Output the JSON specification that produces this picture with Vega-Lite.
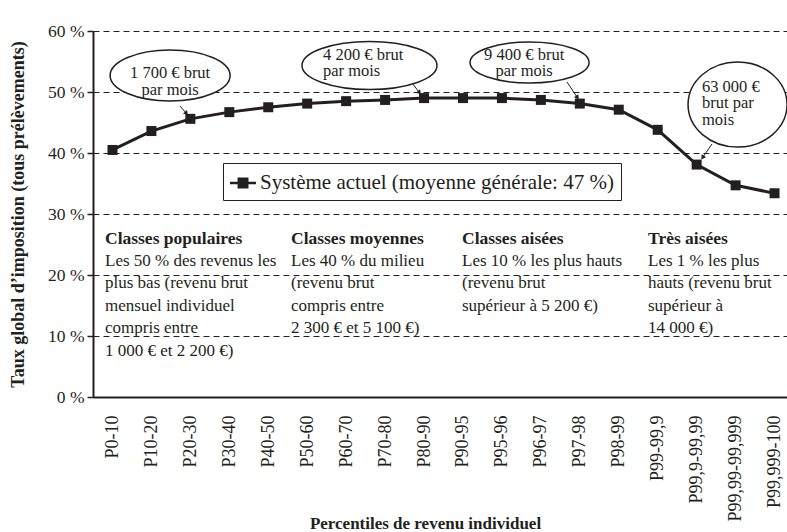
{
  "$schema": "https://vega.github.io/schema/vega-lite/v6.json",
  "width": 694,
  "height": 366,
  "autosize": {"type": "none"},
  "padding": {"left": 93, "top": 31, "right": 0, "bottom": 135},
  "background": "white",
  "config": {
    "view": {"stroke": null},
    "font": "Liberation Serif",
    "text": {"font": "Liberation Serif", "color": "#231f20"}
  },
  "datasets": {
    "series": [
      {"x": 0, "percentile": "P0-10", "y": 40.5, "serie": "Système actuel (moyenne générale: 47 %)"},
      {"x": 1, "percentile": "P10-20", "y": 43.6, "serie": "Système actuel (moyenne générale: 47 %)"},
      {"x": 2, "percentile": "P20-30", "y": 45.6, "serie": "Système actuel (moyenne générale: 47 %)"},
      {"x": 3, "percentile": "P30-40", "y": 46.7, "serie": "Système actuel (moyenne générale: 47 %)"},
      {"x": 4, "percentile": "P40-50", "y": 47.5, "serie": "Système actuel (moyenne générale: 47 %)"},
      {"x": 5, "percentile": "P50-60", "y": 48.1, "serie": "Système actuel (moyenne générale: 47 %)"},
      {"x": 6, "percentile": "P60-70", "y": 48.5, "serie": "Système actuel (moyenne générale: 47 %)"},
      {"x": 7, "percentile": "P70-80", "y": 48.7, "serie": "Système actuel (moyenne générale: 47 %)"},
      {"x": 8, "percentile": "P80-90", "y": 49.0, "serie": "Système actuel (moyenne générale: 47 %)"},
      {"x": 9, "percentile": "P90-95", "y": 49.0, "serie": "Système actuel (moyenne générale: 47 %)"},
      {"x": 10, "percentile": "P95-96", "y": 49.0, "serie": "Système actuel (moyenne générale: 47 %)"},
      {"x": 11, "percentile": "P96-97", "y": 48.7, "serie": "Système actuel (moyenne générale: 47 %)"},
      {"x": 12, "percentile": "P97-98", "y": 48.1, "serie": "Système actuel (moyenne générale: 47 %)"},
      {"x": 13, "percentile": "P98-99", "y": 47.1, "serie": "Système actuel (moyenne générale: 47 %)"},
      {"x": 14, "percentile": "P99-99,9", "y": 43.8, "serie": "Système actuel (moyenne générale: 47 %)"},
      {"x": 15, "percentile": "P99,9-99,99", "y": 38.1, "serie": "Système actuel (moyenne générale: 47 %)"},
      {"x": 16, "percentile": "P99,99-99,999", "y": 34.7, "serie": "Système actuel (moyenne générale: 47 %)"},
      {"x": 17, "percentile": "P99,999-100", "y": 33.4, "serie": "Système actuel (moyenne générale: 47 %)"}
    ],
    "separators": [{"x": 4.533}, {"x": 8.744}, {"x": 13.597}],
    "ellipses": [
      {"id": "e1", "x": 1.48, "y": 52.7},
      {"id": "e2", "x": 6.6, "y": 54.34},
      {"id": "e3", "x": 10.71, "y": 54.84},
      {"id": "e4", "x": 16.05, "y": 47.95}
    ],
    "notes_c": [
      {"x": 1.48, "y": 53.11, "txt": "1 700 € brut\npar mois"},
      {"x": 10.57, "y": 56.07, "txt": "9 400 € brut\npar mois"}
    ],
    "notes_l": [
      {"x": 5.406, "y": 56.07, "txt": "4 200 € brut\npar mois"},
      {"x": 15.137, "y": 50.82, "txt": "63 000 €\nbrut par\nmois"}
    ],
    "arrows": [
      {"x": 1.734, "y": 47.7, "x2": 1.888, "y2": 46.56, "heading": 139},
      {"x": 7.691, "y": 51.48, "x2": 7.871, "y2": 50.0, "heading": 142},
      {"x": 11.671, "y": 51.64, "x2": 11.928, "y2": 49.18, "heading": 146},
      {"x": 15.394, "y": 41.48, "x2": 15.163, "y2": 39.34, "heading": 215}
    ],
    "blocks": [
      {"x": -0.192, "y": 25.08, "yb": 21.52, "title": "Classes populaires", "body": "Les 50 % des revenus les\nplus bas (revenu brut\nmensuel individuel\ncompris entre\n1 000 € et 2 200 €)"},
      {"x": 4.584, "y": 25.08, "yb": 21.52, "title": "Classes moyennes", "body": "Les 40 % du milieu\n(revenu brut\ncompris entre\n2 300 € et 5 100 €)"},
      {"x": 8.975, "y": 25.08, "yb": 21.52, "title": "Classes aisées", "body": "Les 10 % les plus hauts\n(revenu brut\nsupérieur à 5 200 €)"},
      {"x": 13.751, "y": 25.08, "yb": 21.52, "title": "Très aisées", "body": "Les 1 % les plus\nhauts (revenu brut\nsupérieur à\n14 000 €)"}
    ]
  },
  "encoding": {
    "x": {
      "field": "x", "type": "quantitative",
      "scale": {"domain": [-0.5, 17.32], "nice": false, "zero": false},
      "axis": {
        "title": "Percentiles de revenu individuel",
        "values": [0, 1, 2, 3, 4, 5, 6, 7, 8, 9, 10, 11, 12, 13, 14, 15, 16, 17],
        "labelExpr": "['P0-10','P10-20','P20-30','P30-40','P40-50','P50-60','P60-70','P70-80','P80-90','P90-95','P95-96','P96-97','P97-98','P98-99','P99-99,9','P99,9-99,99','P99,99-99,999','P99,999-100'][datum.value]",
        "labelAngle": -90,
        "labelFont": "Liberation Serif",
        "labelFontSize": 18,
        "labelColor": "#231f20",
        "labelPadding": 18,
        "labelOverlap": false,
        "labelFlush": false,
        "ticks": false,
        "grid": false,
        "domainColor": "#231f20",
        "domainWidth": 2,
        "titleFont": "Liberation Serif",
        "titleFontSize": 17,
        "titleFontWeight": "bold",
        "titleColor": "#231f20",
        "titleX": 332,
        "titleY": 126,
        "titleBaseline": "middle"
      }
    },
    "y": {
      "field": "y", "type": "quantitative",
      "scale": {"domain": [0, 60], "nice": false},
      "axis": {
        "title": "Taux global d’imposition (tous prélèvements)",
        "values": [0, 10, 20, 30, 40, 50, 60],
        "labelExpr": "datum.value + ' %'",
        "labelFont": "Liberation Serif",
        "labelFontSize": 17.5,
        "labelColor": "#231f20",
        "labelPadding": 3,
        "tickSize": 6,
        "tickColor": "#231f20",
        "tickWidth": 1.5,
        "grid": true,
        "gridDash": [6, 4],
        "gridColor": "#231f20",
        "gridWidth": 1,
        "gridOpacity": 1,
        "domainColor": "#231f20",
        "domainWidth": 2,
        "titleFont": "Liberation Serif",
        "titleFontSize": 18,
        "titleFontWeight": "bold",
        "titleColor": "#231f20",
        "titleX": -75,
        "titleY": 183,
        "titleBaseline": "middle"
      }
    }
  },
  "layer": [
    {
      "data": {"name": "separators"},
      "mark": {"type": "rule", "color": "#231f20", "strokeWidth": 1, "strokeDash": [5, 4]},
      "encoding": {"y": {"datum": 0}, "y2": {"datum": 60}}
    },
    {
      "data": {"values": [{}]},
      "mark": {"type": "rule", "color": "#231f20", "strokeWidth": 2},
      "encoding": {"x": {"datum": -0.5}, "x2": {"datum": 17.32}, "y": {"datum": 60}}
    },
    {
      "data": {"name": "series"},
      "mark": {"type": "line", "color": "#231f20", "strokeWidth": 3},
      "encoding": {}
    },
    {
      "data": {"name": "series"},
      "mark": {"type": "point", "shape": "square", "filled": true, "size": 100, "opacity": 1},
      "encoding": {
        "color": {
          "field": "serie", "type": "nominal",
          "scale": {"range": ["#231f20"]},
          "legend": {
            "title": null,
            "orient": "none",
            "legendX": 130,
            "legendY": 132,
            "symbolType": "M-1,-0.1H-0.42V-0.42H0.42V-0.1H1V0.1H0.42V0.42H-0.42V0.1H-1Z",
            "symbolSize": 676,
            "symbolStrokeWidth": 0,
            "symbolOpacity": 1,
            "labelFont": "Liberation Serif",
            "labelFontSize": 21,
            "labelColor": "#231f20",
            "labelLimit": 800,
            "labelOffset": 4,
            "strokeColor": "#231f20",
            "fillColor": "white",
            "padding": 7
          }
        }
      }
    },
    {
      "data": {"name": "arrows"},
      "mark": {"type": "rule", "color": "#231f20", "strokeWidth": 1},
      "encoding": {"x2": {"field": "x2"}, "y2": {"field": "y2"}}
    },
    {
      "data": {"name": "arrows"},
      "mark": {"type": "point", "shape": "triangle", "filled": true, "size": 28, "color": "#231f20", "opacity": 1},
      "encoding": {
        "x": {"field": "x2", "type": "quantitative"},
        "y": {"field": "y2", "type": "quantitative"},
        "angle": {"field": "heading", "type": "quantitative", "scale": null}
      }
    },
    {
      "data": {"name": "ellipses"},
      "mark": {"type": "point", "size": 4, "fill": "white", "stroke": "#231f20", "strokeWidth": 1.5, "opacity": 1, "fillOpacity": 1, "strokeOpacity": 1},
      "encoding": {
        "shape": {
          "field": "id", "type": "nominal", "legend": null,
          "scale": {
            "domain": ["e1", "e2", "e3", "e4"],
            "range": [
              "M60,0C60,14.08 33.14,25.5 0,25.5C-33.14,25.5 -60,14.08 -60,0C-60,-14.08 -33.14,-25.5 0,-25.5C33.14,-25.5 60,-14.08 60,0Z",
              "M67.5,0C67.5,13.26 37.28,24 0,24C-37.28,24 -67.5,13.26 -67.5,0C-67.5,-13.26 -37.28,-24 0,-24C37.28,-24 67.5,-13.26 67.5,0Z",
              "M59.5,0C59.5,11.32 32.86,20.5 0,20.5C-32.86,20.5 -59.5,11.32 -59.5,0C-59.5,-11.32 -32.86,-20.5 0,-20.5C32.86,-20.5 59.5,-11.32 59.5,0Z",
              "M49.5,0C49.5,23.47 27.34,42.5 0,42.5C-27.34,42.5 -49.5,23.47 -49.5,0C-49.5,-23.47 -27.34,-42.5 0,-42.5C27.34,-42.5 49.5,-23.47 49.5,0Z"
            ]
          }
        }
      }
    },
    {
      "data": {"name": "notes_c"},
      "mark": {"type": "text", "align": "center", "baseline": "middle", "fontSize": 16.5, "lineHeight": 16.5, "lineBreak": "\n"},
      "encoding": {"text": {"field": "txt"}}
    },
    {
      "data": {"name": "notes_l"},
      "mark": {"type": "text", "align": "left", "baseline": "middle", "fontSize": 16.5, "lineHeight": 16.5, "lineBreak": "\n"},
      "encoding": {"text": {"field": "txt"}}
    },
    {
      "data": {"name": "blocks"},
      "mark": {"type": "text", "align": "left", "baseline": "alphabetic", "fontSize": 17.5, "fontWeight": "bold"},
      "encoding": {"text": {"field": "title"}}
    },
    {
      "data": {"name": "blocks"},
      "mark": {"type": "text", "align": "left", "baseline": "alphabetic", "fontSize": 17, "lineHeight": 22.5, "lineBreak": "\n"},
      "encoding": {"y": {"field": "yb", "type": "quantitative"}, "text": {"field": "body"}}
    }
  ]
}
